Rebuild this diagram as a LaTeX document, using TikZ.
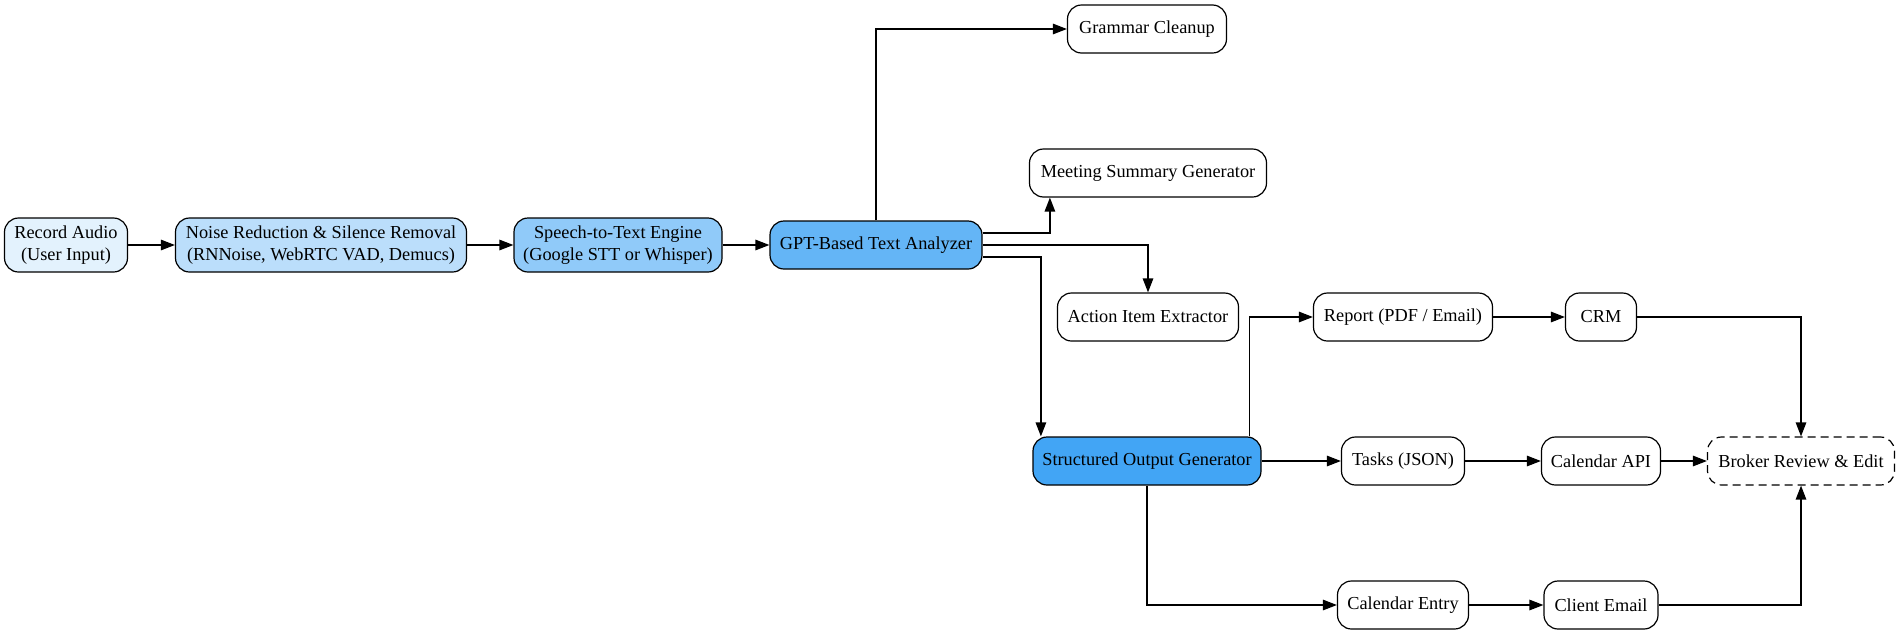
\documentclass[tikz,border=0pt]{standalone}
\usepackage{fontspec}
\setmainfont{Liberation Serif}
\usetikzlibrary{arrows.meta,calc}
\definecolor{c1}{HTML}{E3F2FD}
\definecolor{c2}{HTML}{BBDEFB}
\definecolor{c3}{HTML}{90CAF9}
\definecolor{c4}{HTML}{64B5F6}
\definecolor{c5}{HTML}{42A5F5}
\tikzset{
  box/.style={draw=black, line width=1.2pt, rounded corners=14pt, fill=white,
    minimum height=48pt, inner sep=0pt, align=center,
    font=\fontsize{18.3}{22.5}\selectfont},
  tall/.style={minimum height=54pt},
  arr/.style={draw=black, line width=1.3pt, -{Triangle[length=14pt,width=10.5pt]}},
}
\begin{document}
\begin{tikzpicture}[x=1pt,y=-1pt]
\useasboundingbox (0,0) rectangle (1900,635);
\node[box,tall,fill=c1,minimum width=123pt] (rec) at (66,245) {Record Audio\\(User Input)};
\node[box,tall,fill=c2,minimum width=291pt] (noise) at (321,245) {Noise Reduction \& Silence Removal\\(RNNoise, WebRTC VAD, Demucs)};
\node[box,tall,fill=c3,minimum width=208pt] (stt) at (618,245) {Speech-to-Text Engine\\(Google STT or Whisper)};
\node[box,fill=c4,minimum width=212pt] (gpt) at (876,245) {GPT-Based Text Analyzer};
\node[box,minimum width=159pt] (gram) at (1147,29) {Grammar Cleanup};
\node[box,minimum width=237pt] (meet) at (1148,173) {Meeting Summary Generator};
\node[box,minimum width=181pt] (act) at (1148,317) {Action Item Extractor};
\node[box,fill=c5,minimum width=228pt] (struct) at (1147,461) {Structured Output Generator};
\node[box,minimum width=179pt] (rep) at (1403,317) {Report (PDF / Email)};
\node[box,minimum width=71pt] (crm) at (1601,317) {CRM};
\node[box,minimum width=123pt] (tasks) at (1403,461) {Tasks (JSON)};
\node[box,minimum width=119pt] (capi) at (1601,461) {Calendar API};
\node[box,minimum width=131pt] (cale) at (1403,605) {Calendar Entry};
\node[box,minimum width=114pt] (cli) at (1601,605) {Client Email};
\node[box,minimum width=187pt,dash pattern=on 8pt off 5pt] (brk) at (1801,461) {Broker Review \& Edit};

\draw[arr] (rec) -- (noise);
\draw[arr] (noise) -- (stt);
\draw[arr] (stt) -- (gpt);
\draw[arr] (gpt.north) |- (gram.west);
\draw[arr] ([yshift=12pt]gpt.east) -| ([xshift=21pt]meet.south west);
\draw[arr] (gpt.east) -| (act.north);
\draw[arr] ([yshift=-12pt]gpt.east) -| ([xshift=8.5pt]struct.north west);
\draw[arr] ([xshift=-12pt]struct.north east) |- (rep.west);
\draw[arr] (struct) -- (tasks);
\draw[arr] (struct.south) |- (cale.west);
\draw[arr] (rep) -- (crm);
\draw[arr] (tasks) -- (capi);
\draw[arr] (cale) -- (cli);
\draw[arr] (crm.east) -| (brk.north);
\draw[arr] (capi) -- (brk);
\draw[arr] (cli.east) -| (brk.south);
\end{tikzpicture}
\end{document}
